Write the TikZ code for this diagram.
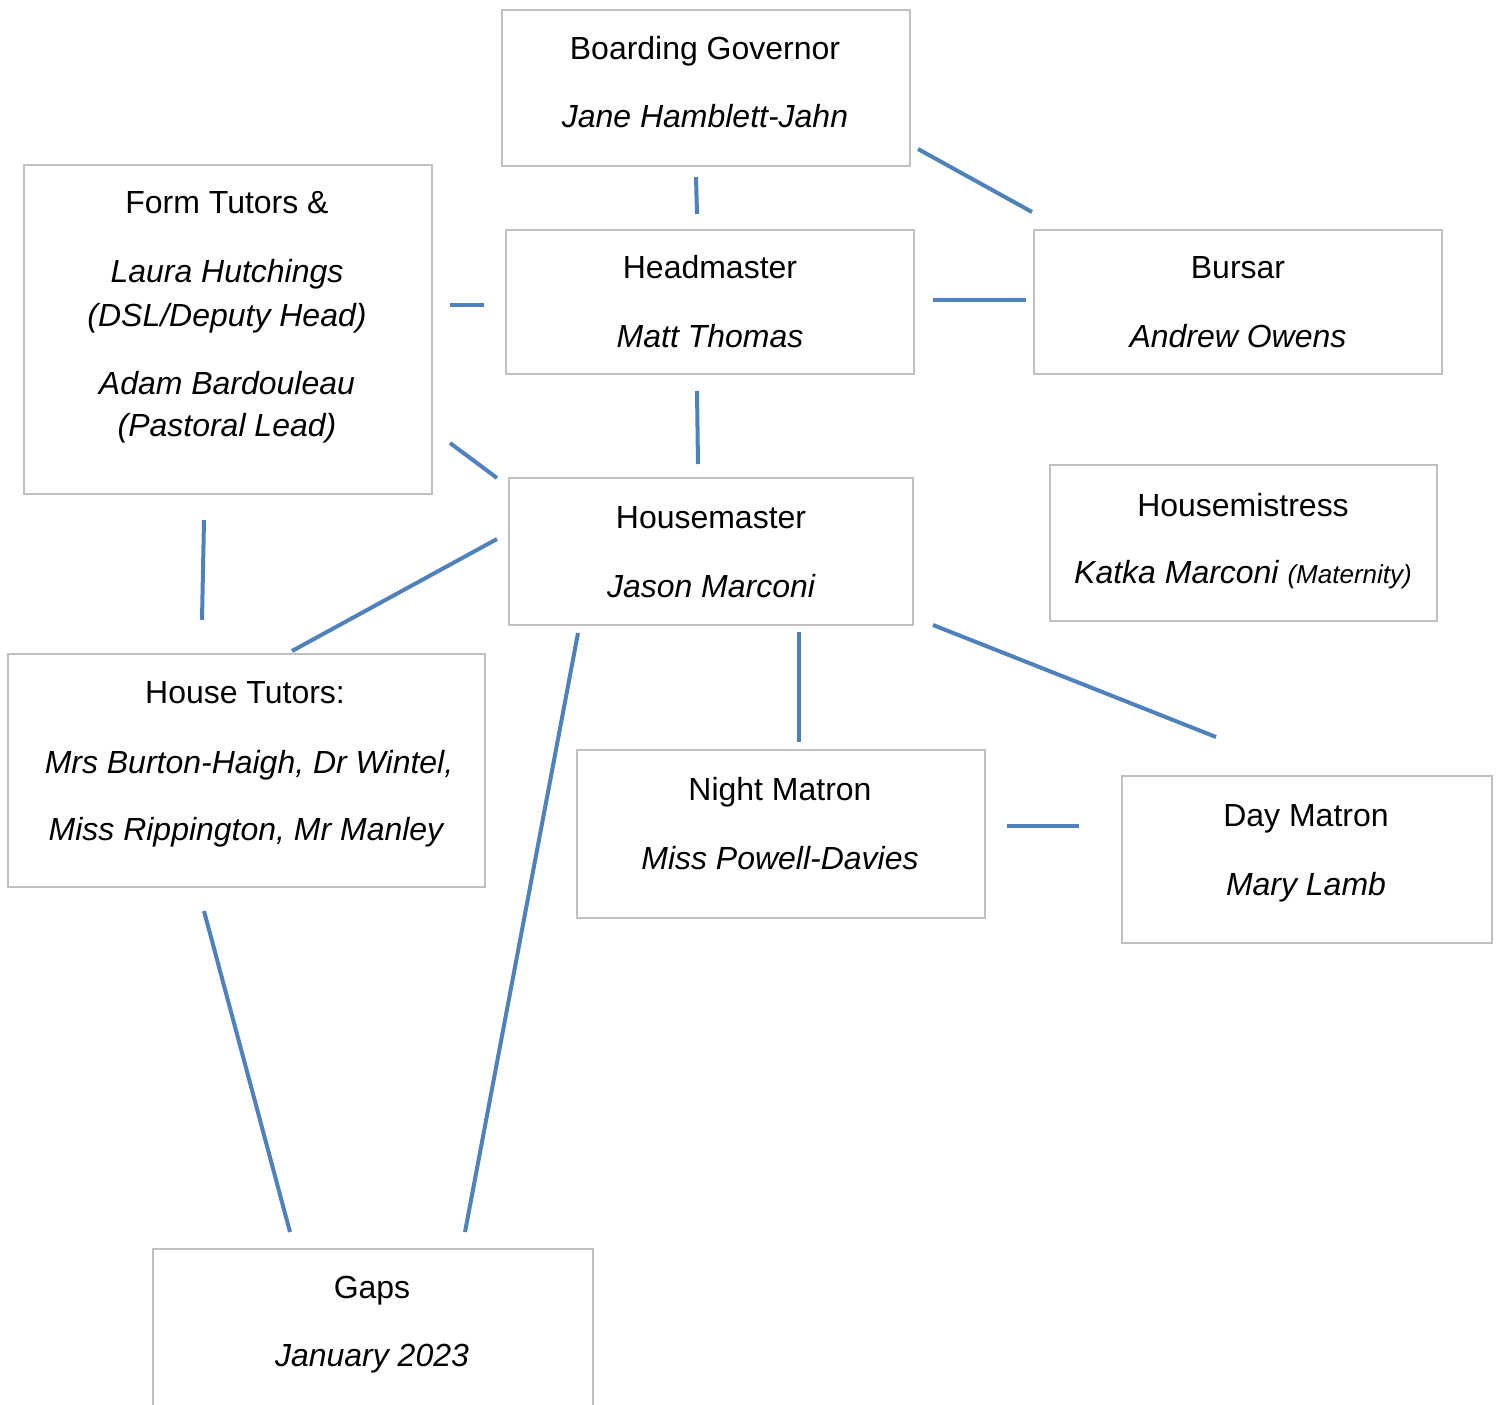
\documentclass[tikz,border=0pt]{standalone}
\usepackage{fontspec}
\setmainfont{Liberation Sans}
\definecolor{lineblue}{HTML}{4F81BD}
\definecolor{boxgray}{HTML}{BFBFBF}

\begin{document}
\begin{tikzpicture}[x=0.2mm, y=-0.2mm,
  box/.style={draw=boxgray, line width=0.4mm, anchor=north west, inner sep=0pt},
  ttl/.style={anchor=base, inner sep=0pt, font=\fontsize{18.2}{22}\selectfont},
  nm/.style={anchor=base, inner sep=0pt, font=\fontsize{18.2}{22}\selectfont\itshape},
  link/.style={lineblue, line width=0.8mm}]
\useasboundingbox (0,0) rectangle (1500,1405);
\clip (0,0) rectangle (1500,1405);

% boxes
\node[box, minimum width=81.6mm, minimum height=31.2mm] (gov) at (501,9) {};
\node[box, minimum width=81.6mm, minimum height=65.8mm] (form) at (23,164) {};
\node[box, minimum width=81.6mm, minimum height=28.8mm] (head) at (505,229) {};
\node[box, minimum width=81.6mm, minimum height=28.8mm] (bursar) at (1033,229) {};
\node[box, minimum width=80.8mm, minimum height=29.4mm] (hm) at (508,477) {};
\node[box, minimum width=77.4mm, minimum height=31.2mm] (hmiss) at (1049,464) {};
\node[box, minimum width=95.4mm, minimum height=46.6mm] (htut) at (7,653) {};
\node[box, minimum width=81.6mm, minimum height=33.6mm] (night) at (576,749) {};
\node[box, minimum width=74mm, minimum height=33.4mm] (day) at (1121,775) {};
\node[box, minimum width=88mm, minimum height=36mm] (gaps) at (152,1248) {};

% texts
\node[ttl] (govT) at (705,60) {Boarding Governor};
\node[nm] (govN) at (705,128) {Jane Hamblett-Jahn};
\node[ttl] (formT) at (227,214) {Form Tutors \&};
\node[nm] (formA) at (227,283) {Laura Hutchings};
\node[nm] (formB) at (227,327) {(DSL/Deputy Head)};
\node[nm] (formC) at (227,395) {Adam Bardouleau};
\node[nm] (formD) at (227,437) {(Pastoral Lead)};
\node[ttl] (headT) at (710,279) {Headmaster};
\node[nm] (headN) at (710,348) {Matt Thomas};
\node[ttl] (bursarT) at (1238,279) {Bursar};
\node[nm] (bursarN) at (1238,348) {Andrew Owens};
\node[ttl] (hmT) at (711,528) {Housemaster};
\node[nm] (hmN) at (711,597) {Jason Marconi};
\node[ttl] (hmissT) at (1243,516) {Housemistress};
\node[nm] (hmissN) at (1243,583) {Katka Marconi {\fontsize{14.8}{18}\selectfont(Maternity)}};
\node[ttl] (htutT) at (245,703) {House Tutors:};
\node[nm] (htutA) at (249,773) {Mrs Burton-Haigh, Dr Wintel,};
\node[nm] (htutB) at (246,840) {Miss Rippington, Mr Manley};
\node[ttl] (nightT) at (780,800) {Night Matron};
\node[nm] (nightN) at (780,869) {Miss Powell-Davies};
\node[ttl] (dayT) at (1306,826) {Day Matron};
\node[nm] (dayN) at (1306,895) {Mary Lamb};
\node[ttl] (gapsT) at (372,1298) {Gaps};
\node[nm] (gapsN) at (372,1366) {January 2023};

% line ends
\coordinate (l1a) at (696,177);  \coordinate (l1b) at (697,214);
\coordinate (l2a) at (918,149);  \coordinate (l2b) at (1032,212);
\coordinate (l3a) at (450,305);  \coordinate (l3b) at (484,305);
\coordinate (l4a) at (933,300);  \coordinate (l4b) at (1026,300);
\coordinate (l5a) at (697,391);  \coordinate (l5b) at (698,464);
\coordinate (l6a) at (450,443);  \coordinate (l6b) at (497,478);
\coordinate (l7a) at (204,520);  \coordinate (l7b) at (202,620);
\coordinate (l8a) at (497,539);  \coordinate (l8b) at (292,651);
\coordinate (l9a) at (578,633);  \coordinate (l9b) at (465,1232);
\coordinate (l10a) at (799,632); \coordinate (l10b) at (799,742);
\coordinate (l11a) at (933,625); \coordinate (l11b) at (1216,737);
\coordinate (l12a) at (1007,826); \coordinate (l12b) at (1079,826);
\coordinate (l13a) at (204,911); \coordinate (l13b) at (290,1232);

\foreach \i in {1,...,13}
  \draw[link] (l\i a) -- (l\i b);
\end{tikzpicture}
\end{document}
